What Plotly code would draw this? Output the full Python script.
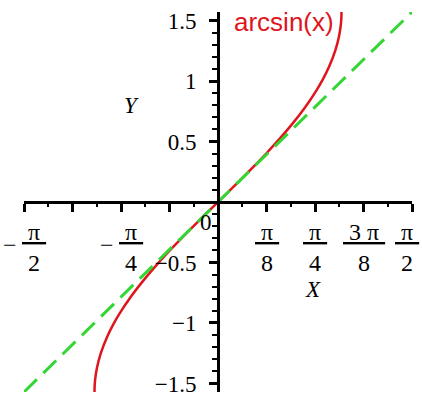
import math
import plotly.graph_objects as go

# arcsin(x) sampled on [-1, 1]
asin_x = [-1.0, -0.999, -0.995, -0.98, -0.95, -0.9, -0.85, -0.8, -0.7, -0.6, -0.5,
          -0.4, -0.3, -0.2, -0.1, 0.0, 0.1, 0.2, 0.3, 0.4, 0.5, 0.6, 0.7, 0.8,
          0.85, 0.9, 0.95, 0.98, 0.995, 0.999, 1.0]
asin_y = [-1.5708, -1.5261, -1.4706, -1.3705, -1.2532, -1.1198, -1.0160, -0.9273,
          -0.7754, -0.6435, -0.5236, -0.4115, -0.3047, -0.2014, -0.1002, 0.0,
          0.1002, 0.2014, 0.3047, 0.4115, 0.5236, 0.6435, 0.7754, 0.9273, 1.0160,
          1.1198, 1.2532, 1.3705, 1.4706, 1.5261, 1.5708]

# identity line y = x across the view
line_x = [-1.5708, 1.5708]
line_y = [-1.5708, 1.5708]

# x tick labels (fractions of pi)
xlab_vals = [-math.pi / 2, -math.pi / 4, math.pi / 8, math.pi / 4, 3 * math.pi / 8, math.pi / 2]
xlab_num = ["π", "π", "π", "π", "3 π", "π"]
xlab_den = ["2", "4", "8", "4", "8", "2"]
xlab_sign = ["−", "−", "", "", "", ""]

# y tick labels
ytick_vals = [-1.5, -1.0, -0.5, 0.0, 0.5, 1.0, 1.5]
ytick_text = ["−1.5", "−1", "−0.5", "", "0.5", "1", "1.5"]

SERIF = "Liberation Serif, Times New Roman, serif"
SANS = "Liberation Sans, Arial, sans-serif"
RED = "#e0141c"
GREEN = "#33d633"

fig = go.Figure()
fig.add_trace(go.Scatter(x=asin_x, y=asin_y, mode="lines",
                         line=dict(color=RED, width=2.5, shape="spline"),
                         hoverinfo="skip"))
fig.add_trace(go.Scatter(x=line_x, y=line_y, mode="lines",
                         line=dict(color=GREEN, width=3, dash="18px,9px"),
                         hoverinfo="skip"))

xmajor = [k * math.pi / 8 for k in range(-4, 5)]
fig.update_layout(
    width=422, height=397,
    margin=dict(l=24, r=10, t=12, b=1),
    paper_bgcolor="white", plot_bgcolor="white",
    showlegend=False,
    xaxis=dict(
        range=[-math.pi / 2, math.pi / 2], anchor="free", position=0.5,
        showgrid=False, zeroline=False, showline=True, linecolor="black", linewidth=3,
        tickmode="array", tickvals=xmajor, ticktext=[""] * len(xmajor),
        ticks="outside", ticklen=8, tickwidth=2.5, tickcolor="black",
        minor=dict(tickmode="linear", tick0=0, dtick=math.pi / 16,
                   ticks="outside", ticklen=3, tickwidth=2, tickcolor="black"),
    ),
    yaxis=dict(
        range=[-math.pi / 2, math.pi / 2], anchor="free", position=0.5,
        showgrid=False, zeroline=False, showline=True, linecolor="black", linewidth=3,
        tickmode="array", tickvals=ytick_vals, ticktext=ytick_text,
        ticks="outside", ticklen=8, tickwidth=2.5, tickcolor="black",
        tickfont=dict(family=SERIF, size=23, color="black"),
        ticklabelstandoff=8, ticklabeloverflow="allow",
        minor=dict(tickmode="linear", tick0=0, dtick=0.1,
                   ticks="outside", ticklen=5, tickwidth=2, tickcolor="black"),
    ),
)

annotations = []
n_lab = len(xlab_vals)
for i, (xv, num, den, sign) in enumerate(zip(xlab_vals, xlab_num, xlab_den, xlab_sign)):
    shift = 10 if sign else 0
    if i == n_lab - 1:
        shift = -5  # keep the right-most fraction inside the frame
    annotations.append(dict(
        x=xv, y=0, xref="x", yref="y", xshift=shift, yshift=-15,
        xanchor="center", yanchor="top", showarrow=False, align="center",
        text=f"<span style='text-decoration:underline'>&nbsp;{num}&nbsp;</span><br>{den}",
        font=dict(family=SERIF, size=24, color="black"),
    ))
    if sign:
        annotations.append(dict(
            x=xv, y=0, xref="x", yref="y", xshift=-14, yshift=-43,
            xanchor="center", yanchor="middle", showarrow=False,
            text=sign, font=dict(family=SERIF, size=24, color="black"),
        ))

# origin label, set below the horizontal axis
annotations.append(dict(x=0, y=0, xref="x", yref="y", xshift=-4, yshift=-6,
                        xanchor="right", yanchor="top", showarrow=False, text="0",
                        font=dict(family=SERIF, size=23, color="black")))
# axis titles
annotations.append(dict(x=-0.70, y=0.80, xref="x", yref="y", showarrow=False,
                        text="<i>Y</i>", font=dict(family=SERIF, size=23, color="black")))
annotations.append(dict(x=0.77, y=-0.72, xref="x", yref="y", showarrow=False,
                        text="<i>X</i>", font=dict(family=SERIF, size=23, color="black")))
# curve label
annotations.append(dict(x=0.11, y=1.49, xref="x", yref="y", xanchor="left",
                        yanchor="middle", showarrow=False, text="arcsin(x)",
                        font=dict(family=SANS, size=26, color=RED)))

fig.update_layout(annotations=annotations)
fig.write_html("out.html")
